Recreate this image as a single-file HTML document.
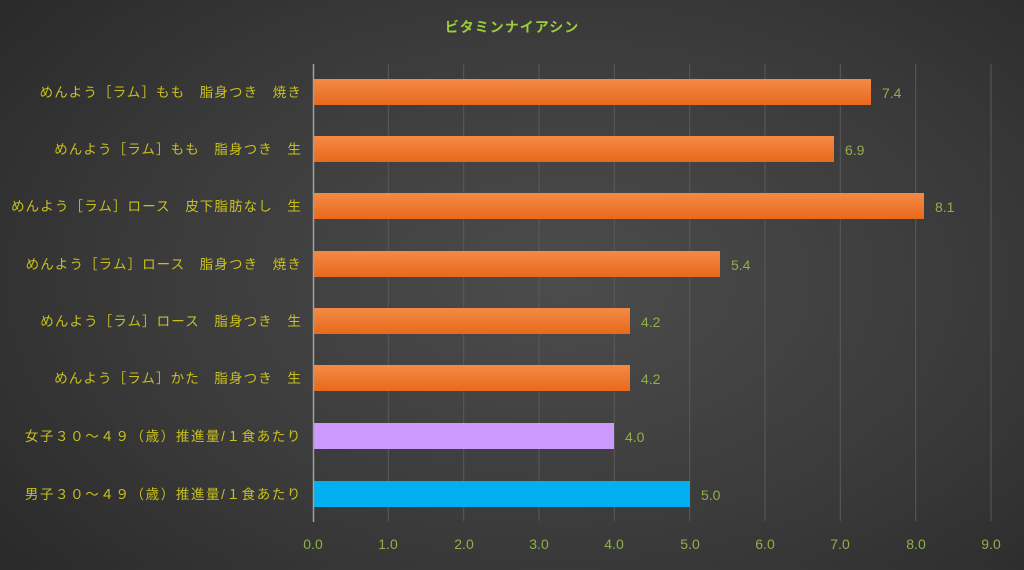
<!DOCTYPE html><html><head><meta charset="utf-8"><style>
body{margin:0;width:1024px;height:565px;overflow:hidden;background:radial-gradient(ellipse 75% 85% at 55% 50%,#4c4c4c 0%,#3a3a3a 55%,#272727 100%);}
text{font-family:"Liberation Sans","Noto Sans CJK JP",sans-serif;}
</style></head><body>
<svg width="1024" height="565" xmlns="http://www.w3.org/2000/svg">
<defs><linearGradient id="o" x1="0" y1="0" x2="0" y2="1"><stop offset="0" stop-color="#f48a45"/><stop offset="1" stop-color="#e8691c"/></linearGradient></defs>
<text x="512" y="32" text-anchor="middle" fill="#9bcc3a" font-size="14" font-weight="bold" letter-spacing="1">ビタミンナイアシン</text>
<g stroke="#5a5a5a" stroke-width="1">
<line x1="388.3" y1="64" x2="388.3" y2="521"/><line x1="463.7" y1="64" x2="463.7" y2="521"/><line x1="539" y1="64" x2="539" y2="521"/><line x1="614.3" y1="64" x2="614.3" y2="521"/><line x1="689.7" y1="64" x2="689.7" y2="521"/><line x1="765" y1="64" x2="765" y2="521"/><line x1="840.3" y1="64" x2="840.3" y2="521"/><line x1="915.7" y1="64" x2="915.7" y2="521"/><line x1="991" y1="64" x2="991" y2="521"/>
</g>
<g>
<rect x="314" y="79" width="557" height="26" fill="url(#o)"/>
<rect x="314" y="136" width="520" height="26" fill="url(#o)"/>
<rect x="314" y="193" width="610" height="26" fill="url(#o)"/>
<rect x="314" y="251" width="406" height="26" fill="url(#o)"/>
<rect x="314" y="308" width="316" height="26" fill="url(#o)"/>
<rect x="314" y="365" width="316" height="26" fill="url(#o)"/>
<rect x="314" y="423" width="300" height="26" fill="#cc99ff"/>
<rect x="314" y="481" width="376" height="26" fill="#00b0f0"/>
</g>
<line x1="313.5" y1="64" x2="313.5" y2="522" stroke="#a0a0a0" stroke-width="1.5"/>
<g fill="#8fb04a" font-size="14">
<text x="882" y="98">7.4</text><text x="845" y="155">6.9</text><text x="935" y="212">8.1</text><text x="731" y="270">5.4</text><text x="641" y="327">4.2</text><text x="641" y="384">4.2</text><text x="625" y="442">4.0</text><text x="701" y="500">5.0</text>
</g>
<g fill="#8fb04a" font-size="14" text-anchor="middle">
<text x="313" y="549">0.0</text><text x="388" y="549">1.0</text><text x="464" y="549">2.0</text><text x="539" y="549">3.0</text><text x="614" y="549">4.0</text><text x="690" y="549">5.0</text><text x="765" y="549">6.0</text><text x="840" y="549">7.0</text><text x="916" y="549">8.0</text><text x="991" y="549">9.0</text>
</g>
<g fill="#c8c020" font-size="13.5" text-anchor="end" letter-spacing="1.1">
<text x="302" y="97">めんよう［ラム］もも　脂身つき　焼き</text>
<text x="302" y="154">めんよう［ラム］もも　脂身つき　生</text>
<text x="302" y="211">めんよう［ラム］ロース　皮下脂肪なし　生</text>
<text x="302" y="269">めんよう［ラム］ロース　脂身つき　焼き</text>
<text x="302" y="326">めんよう［ラム］ロース　脂身つき　生</text>
<text x="302" y="383">めんよう［ラム］かた　脂身つき　生</text>
<text x="302" y="441" letter-spacing="1.6">女子３０～４９（歳）推進量/１食あたり</text>
<text x="302" y="499" letter-spacing="1.6">男子３０～４９（歳）推進量/１食あたり</text>
</g>
</svg>
</body></html>
